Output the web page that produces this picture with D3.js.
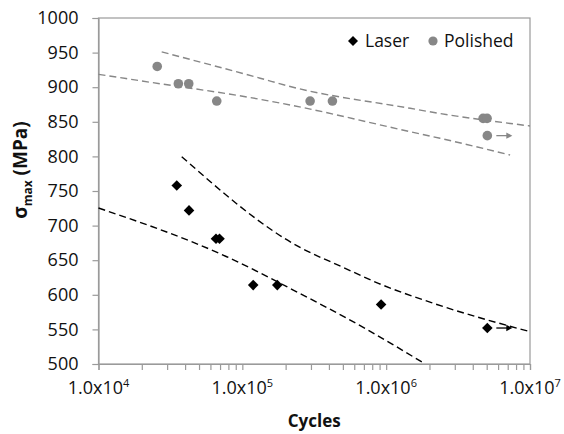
<!DOCTYPE html>
<html><head><meta charset="utf-8">
<script src="https://cdn.jsdelivr.net/npm/d3@7"></script>
<style>
html,body{margin:0;padding:0;background:#fff;}
text{font-family:"Open Sans",sans-serif;}
</style></head>
<body><svg id="c" width="564" height="434"></svg>
<script>
// ---- data ----
const xTicks = [1e4, 1e5, 1e6, 1e7];
const xTickExp = ["4", "5", "6", "7"];
const yTicks = [500, 550, 600, 650, 700, 750, 800, 850, 900, 950, 1000];
const seriesNames = ["Laser", "Polished"];

const laserN = [35000, 42600, 65600, 69400, 119000, 175000, 922000, 5050000];
const laserS = [758, 722, 681, 681, 614, 614, 586, 552];
const laserRunout = [false, false, false, false, false, false, false, true];

const polishedN = [25600, 35900, 42400, 66400, 296000, 423000, 4720000, 5030000, 5050000];
const polishedS = [930, 905, 905, 880, 880, 880, 855, 855, 830];
const polishedRunout = [false, false, false, false, false, false, false, false, true];

// dashed curves: [cycles, MPa]
const polishedUpperLine = [[27500, 951], [133000, 913], [215000, 901], [1470000, 869.5], [2370000, 862], [10000000, 844]];
const polishedLowerLine = [[10000, 918.6], [19400, 909.4], [133000, 882.5], [215000, 874.3], [1470000, 835.7], [2370000, 826.2], [7270000, 802]];
const laserLowerLine = [[10000, 725.4], [77900, 655], [226000, 606.9], [732000, 550.1], [1820000, 501.4]];
const laserUpperLine = [[37900, 799.6], [252000, 668.4], [491000, 640.6], [883000, 616.6], [2130000, 587.7], [10000000, 546.7]];

// ---- chart ----
const svg = d3.select("#c");
const L = 98.5, R = 530, T = 18, B = 364;
const x = d3.scaleLog().domain([1e4, 1e7]).range([L, R]);
const y = d3.scaleLinear().domain([500, 1000]).range([B, T]);
const axisCol = "#9a9a9a";
const grey = "#878787";

// plot frame
svg.append("rect").attr("x", L).attr("y", T).attr("width", R - L).attr("height", B - T)
  .attr("fill", "none").attr("stroke", axisCol).attr("stroke-width", 1.2);

// y axis
const yAxis = d3.axisLeft(y).tickValues(yTicks).tickSize(6).tickFormat(d3.format("d"));
const gy = svg.append("g").attr("transform", `translate(${L},0)`).call(yAxis);
gy.select(".domain").attr("stroke", axisCol).attr("stroke-width", 1.2);
gy.selectAll(".tick line").attr("stroke", axisCol).attr("stroke-width", 1.2);
gy.selectAll(".tick text").attr("font-size", 18).attr("fill", "#111").attr("x", -20)
  .attr("font-family", "'Open Sans',sans-serif");

// x axis: minor ticks
const minor = [];
for (let e = 4; e < 7; e++) for (let k = 2; k <= 9; k++) minor.push(k * Math.pow(10, e));
const xAxis = d3.axisBottom(x).tickValues(xTicks.concat(minor)).tickSize(6).tickFormat("");
const gx = svg.append("g").attr("transform", `translate(0,${B})`).call(xAxis);
gx.select(".domain").attr("stroke", axisCol).attr("stroke-width", 1.2);
gx.selectAll(".tick line").attr("stroke", axisCol).attr("stroke-width", 1.2);

// x tick labels
xTicks.forEach((v, i) => {
  const t = svg.append("text").attr("x", x(v)).attr("y", B + 30).attr("text-anchor", "middle")
    .attr("font-size", 18).attr("fill", "#111");
  t.append("tspan").text("1.0x10");
  t.append("tspan").attr("font-size", 11).attr("dy", -7).text(xTickExp[i]);
});

// axis titles
svg.append("text").attr("x", (L + R) / 2).attr("y", 427).attr("text-anchor", "middle")
  .attr("font-size", 17).attr("font-weight", "bold").attr("fill", "#111").text("Cycles");
const yt = svg.append("text").attr("transform", "translate(27,170) rotate(-90)")
  .attr("text-anchor", "middle").attr("font-size", 19).attr("font-weight", "bold").attr("fill", "#111");
yt.append("tspan").text("σ");
yt.append("tspan").attr("font-size", 12).attr("dy", 5).text("max");
yt.append("tspan").attr("dy", -5).text(" (MPa)");

// dashed lines
const line = d3.line().x(d => x(d[0])).y(d => y(d[1])).curve(d3.curveMonotoneX);
const dashed = (data, col) => svg.append("path").datum(data).attr("d", line)
  .attr("fill", "none").attr("stroke", col).attr("stroke-width", 1.4).attr("stroke-dasharray", "7,4");
dashed(polishedUpperLine, grey);
dashed(polishedLowerLine, grey);
dashed(laserLowerLine, "#000");
dashed(laserUpperLine, "#000");

// markers
const diamond = d3.symbol().type(d3.symbolSquare).size(56);
laserN.forEach((n, i) => {
  svg.append("path").attr("d", diamond())
    .attr("transform", `translate(${x(n)},${y(laserS[i])}) rotate(45)`).attr("fill", "#000");
});
polishedN.forEach((n, i) => {
  svg.append("circle").attr("cx", x(n)).attr("cy", y(polishedS[i])).attr("r", 4.8).attr("fill", grey);
});

// run-out arrows
const arrow = (cx, cy, col) => {
  svg.append("line").attr("x1", cx + 9).attr("x2", cx + 22).attr("y1", cy).attr("y2", cy)
    .attr("stroke", col).attr("stroke-width", 1.3);
  svg.append("path").attr("d", d3.line()([[cx + 19, cy - 3.2], [cx + 25, cy], [cx + 19, cy + 3.2]]))
    .attr("fill", col);
};
laserN.forEach((n, i) => { if (laserRunout[i]) arrow(x(n), y(laserS[i]), "#000"); });
polishedN.forEach((n, i) => { if (polishedRunout[i]) arrow(x(n), y(polishedS[i]), grey); });

// legend
const lg = svg.append("g");
lg.append("path").attr("d", d3.symbol().type(d3.symbolSquare).size(50)())
  .attr("transform", "translate(353,41) rotate(45)").attr("fill", "#000");
lg.append("text").attr("x", 365).attr("y", 47).attr("font-size", 17.5).attr("fill", "#111").text(seriesNames[0]);
lg.append("circle").attr("cx", 433).attr("cy", 41).attr("r", 4.6).attr("fill", grey);
lg.append("text").attr("x", 444).attr("y", 47).attr("font-size", 17.5).attr("fill", "#111").text(seriesNames[1]);
</script></body></html>
